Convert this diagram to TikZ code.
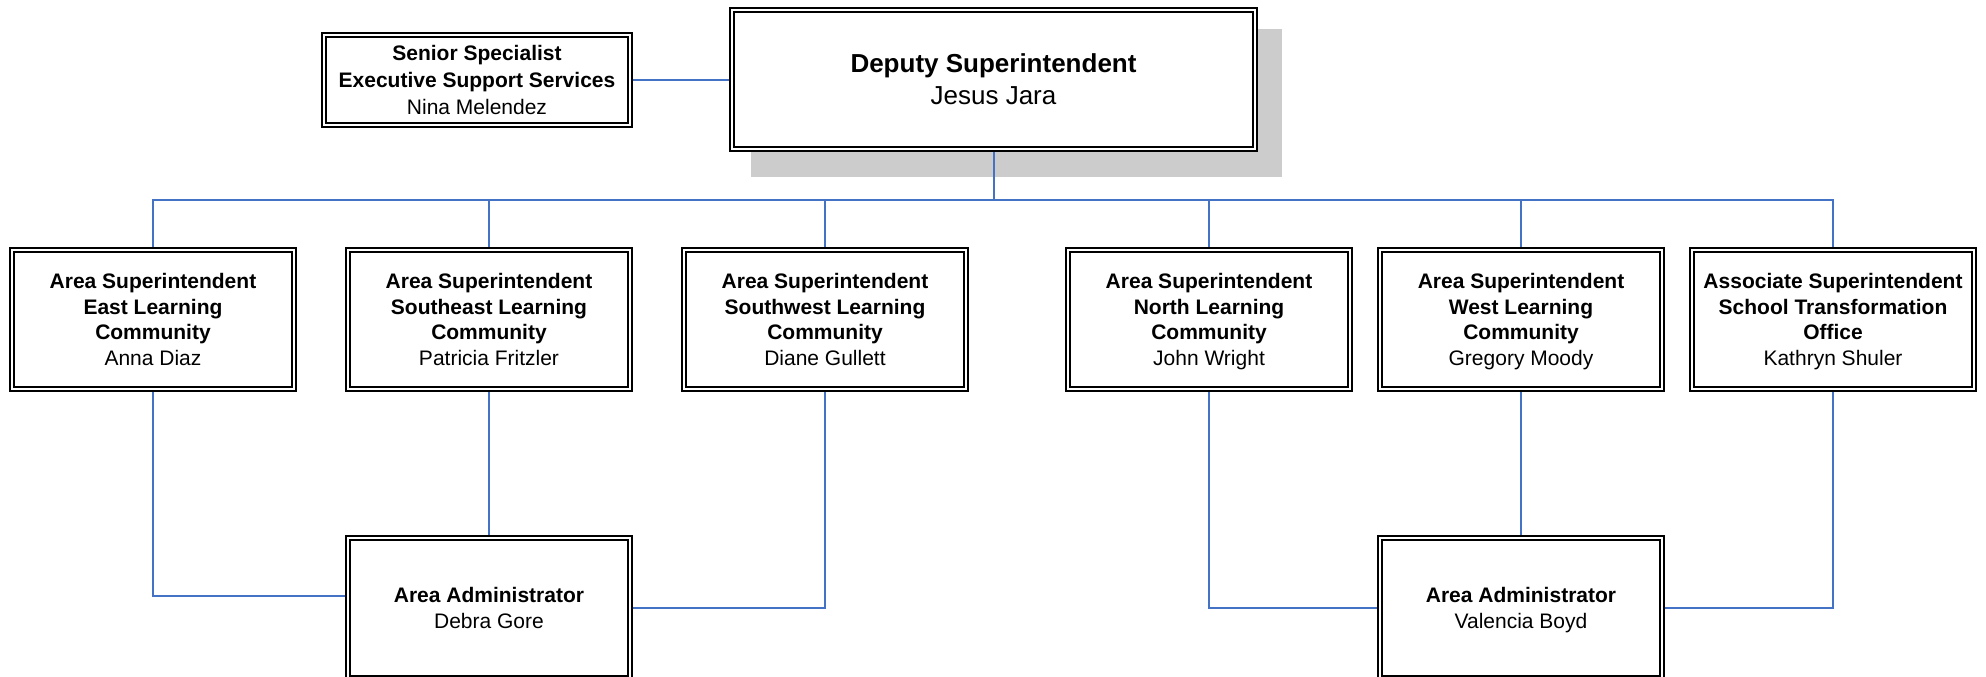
\documentclass[tikz,border=0pt]{standalone}
\usepackage{fontspec}
\setmainfont{Liberation Sans}
\usetikzlibrary{backgrounds}
\definecolor{connblue}{HTML}{4472C4}
\definecolor{shadowgray}{HTML}{CCCCCC}
\tikzset{
  orgbox/.style={draw=black, line width=1.6pt, double=white, double distance=2.6pt,
    fill=white, inner sep=0pt, align=center,
    minimum width=282pt, minimum height=139pt,
    font=\fontsize{21}{25.5}\selectfont},
  seniorbox/.style={orgbox, minimum width=306pt, minimum height=90pt,
    font=\fontsize{21}{27}\selectfont},
  deputybox/.style={orgbox, minimum width=523pt, minimum height=139pt,
    font=\fontsize{26}{32}\selectfont},
  adminbox/.style={orgbox, minimum height=140pt},
  conn/.style={draw=connblue, line width=2pt},
}
\begin{document}
\begin{tikzpicture}[x=1pt,y=-1pt]
\useasboundingbox (0,0) rectangle (1986,677);
\clip (0,0) rectangle (1986,677);

\node[deputybox] (deputy) at (993.5,79.5) {\textbf{Deputy Superintendent}\\\smash{Jesus Jara}};
\node[seniorbox] (senior) at (477,80) {\textbf{Senior Specialist}\\\textbf{Executive Support Services}\\\smash{Nina Melendez}};

\node[orgbox] (b1) at (153,319.5) {\textbf{Area Superintendent}\\\textbf{East Learning}\\\textbf{Community}\\\smash{Anna Diaz}};
\node[orgbox] (b2) at (489,319.5) {\textbf{Area Superintendent}\\\textbf{Southeast Learning}\\\textbf{Community}\\\smash{Patricia Fritzler}};
\node[orgbox] (b3) at (825,319.5) {\textbf{Area Superintendent}\\\textbf{Southwest Learning}\\\textbf{Community}\\\smash{Diane Gullett}};
\node[orgbox] (b4) at (1209,319.5) {\textbf{Area Superintendent}\\\textbf{North Learning}\\\textbf{Community}\\\smash{John Wright}};
\node[orgbox] (b5) at (1521,319.5) {\textbf{Area Superintendent}\\\textbf{West Learning}\\\textbf{Community}\\\smash{Gregory Moody}};
\node[orgbox] (b6) at (1833,319.5) {\textbf{Associate Superintendent}\\\textbf{School Transformation}\\\textbf{Office}\\\smash{Kathryn Shuler}};

\node[adminbox] (debra) at (489,608) {\textbf{Area Administrator}\\\smash{Debra Gore}};
\node[adminbox] (valencia) at (1521,608) {\textbf{Area Administrator}\\\smash{Valencia Boyd}};

\coordinate (bus) at (993.5,200);

\begin{scope}[on background layer]
  \fill[shadowgray] ([xshift=20pt,yshift=-20pt]deputy.north west) rectangle ([xshift=26pt,yshift=-27pt]deputy.south east);
  \draw[conn] (senior.east) -- (senior.east -| deputy.west);
  \draw[conn] (deputy.south) -- (bus);
  \draw[conn] (bus) -| (b1.north);
  \draw[conn] (bus) -| (b2.north);
  \draw[conn] (bus) -| (b3.north);
  \draw[conn] (bus) -| (b4.north);
  \draw[conn] (bus) -| (b5.north);
  \draw[conn] (bus) -| (b6.north);
  \draw[conn] (b1.south) |- ([yshift=12pt]debra.west);
  \draw[conn] (b2.south) -- (debra.north);
  \draw[conn] (b3.south) |- (debra.east);
  \draw[conn] (b4.south) |- (valencia.west);
  \draw[conn] (b5.south) -- (valencia.north);
  \draw[conn] (b6.south) |- (valencia.east);
\end{scope}
\end{tikzpicture}
\end{document}
